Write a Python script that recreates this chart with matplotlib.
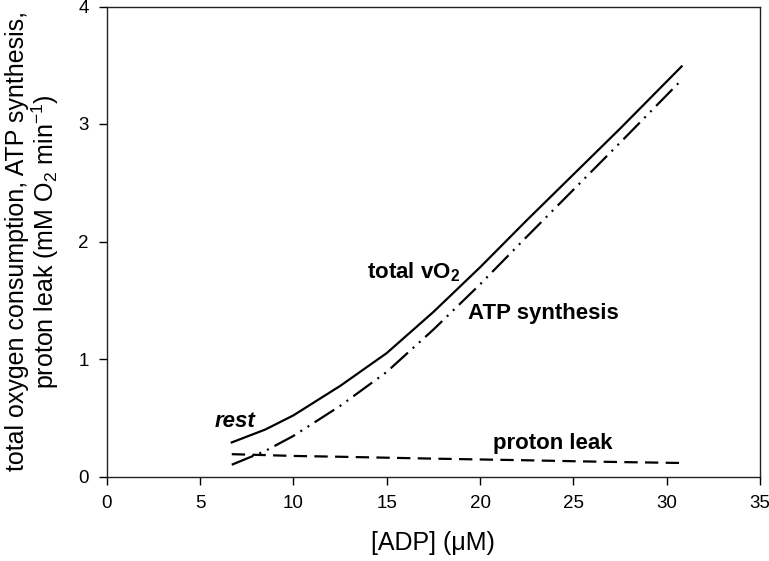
import matplotlib
matplotlib.use("Agg")
import matplotlib.pyplot as plt

plt.rcParams['font.family'] = ['Liberation Sans', 'DejaVu Sans']
plt.rcParams['mathtext.default'] = 'regular'

# Data
adp = [6.7, 8.5, 10, 12.5, 15, 17.5, 20, 22.5, 25, 27.5, 30.8]
total_vo2 = [0.29, 0.40, 0.52, 0.77, 1.05, 1.40, 1.78, 2.18, 2.57, 2.96, 3.49]
atp_synthesis = [0.10, 0.218, 0.345, 0.60, 0.89, 1.25, 1.635, 2.04, 2.44, 2.84, 3.375]
proton_leak = [0.19, 0.182, 0.175, 0.168, 0.16, 0.152, 0.145, 0.138, 0.13, 0.123, 0.115]

xticks = [0, 5, 10, 15, 20, 25, 30, 35]
yticks = [0, 1, 2, 3, 4]

fig = plt.figure(figsize=(7.69, 5.61), dpi=100)
ax = fig.add_axes([106.7/769, 1-476.5/561, (760-106.7)/769, (476.5-6.5)/561])

ax.plot(adp, total_vo2, color='black', lw=1.6, ls='-')
ax.plot(adp, atp_synthesis, color='black', lw=1.6,
        ls=(0, (10.5, 2.9, 0.9, 2.9, 0.9, 2.9)))
ax.plot(adp, proton_leak, color='black', lw=1.6, ls=(0, (6.0, 3.3)))

ax.set_xlim(0, 35)
ax.set_ylim(0, 4)
ax.set_xticks(xticks)
ax.set_yticks(yticks)
ax.tick_params(direction='out', length=6, width=1, labelsize=13.5, pad=7, colors='black')
for s in ax.spines.values():
    s.set_linewidth(1.0)
    s.set_color('#222222')

ax.set_xlabel('[ADP] (μM)', fontsize=18, labelpad=14)
fig.text(33/769, 1-241.5/561,
         'total oxygen consumption, ATP synthesis,\nproton leak (mM O$_2$ min$^{-1}$)',
         rotation=90, ha='center', va='center', multialignment='center', fontsize=18,
         linespacing=1.0)

ax.text(5.8, 0.466, 'rest', fontsize=16, fontweight='bold', fontstyle='italic', va='center', ha='left')
ax.text(13.93, 1.74, 'total vO$_2$', fontsize=16, fontweight='bold', va='center', ha='left')
ax.text(19.37, 1.39, 'ATP synthesis', fontsize=16, fontweight='bold', va='center', ha='left')
ax.text(20.7, 0.283, 'proton leak', fontsize=16, fontweight='bold', va='center', ha='left')

fig.savefig('out.png', dpi=100)
